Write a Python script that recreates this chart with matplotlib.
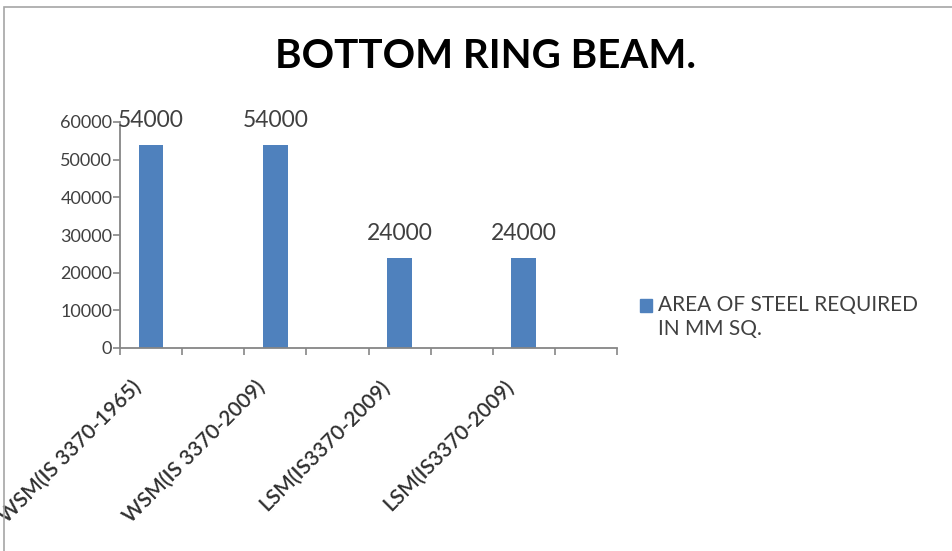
import matplotlib
matplotlib.use("Agg")
import matplotlib.pyplot as plt
import numpy as np
from matplotlib.patches import Rectangle

# steel area required for the bottom ring beam, by design method
methods = ["WSM(IS 3370-1965)", "WSM(IS 3370-2009)", "LSM(IS3370-2009)", "LSM(IS3370-2009)"]
steel_area = [54000, 54000, 24000, 24000]
y_ticks = [0, 10000, 20000, 30000, 40000, 50000, 60000]
series_name = "AREA OF STEEL REQUIRED\nIN MM SQ."

plt.rcParams['font.family'] = ['Lato', 'DejaVu Sans']

bar_color = "#4F81BD"
axis_color = "#868686"
text_color = "#404040"

fig = plt.figure(figsize=(9.52, 5.51), dpi=100)
fig.patch.set_facecolor("white")

W, H = 952, 551
ax = fig.add_axes([120 / W, 1 - 348 / H, (617 - 120) / W, (348 - 122) / H])

# each category occupies two slots on the axis, bar sits in the first one
pos = np.arange(len(methods)) * 2 + 0.5
bars = ax.bar(pos, steel_area, width=0.4, color=bar_color, zorder=2)

for x, v in zip(pos, steel_area):
    ax.annotate(f"{v}", (x, v), xytext=(0, 24), textcoords="offset pixels",
                ha="center", va="center", fontsize=16.5, color=text_color)

# slanted category names, ending just under each bar
for x, name in zip(pos, methods):
    ax.annotate(name, (x, 0), xycoords=("data", "axes fraction"),
                xytext=(-13, -36), textcoords="offset pixels",
                rotation=45, ha="right", va="center", rotation_mode="anchor",
                fontsize=15, color="#303030", fontweight="semibold",
                annotation_clip=False)

ax.set_xlim(0, 8)
ax.set_ylim(0, 60000)
ax.set_yticks(y_ticks)
ax.set_yticklabels([str(t) for t in y_ticks], fontsize=13, color=text_color)
ax.set_xticks(np.arange(0, 9))
ax.set_xticklabels([])

ax.tick_params(axis="y", length=5, width=1.2, color=axis_color, pad=0.5)
ax.tick_params(axis="x", length=5, width=1.2, color=axis_color)

for s in ["top", "right"]:
    ax.spines[s].set_visible(False)
for s in ["left", "bottom"]:
    ax.spines[s].set_color(axis_color)
    ax.spines[s].set_linewidth(1.3)

fig.text(486 / W, 1 - 56 / H, "BOTTOM RING BEAM.", ha="center", va="center",
         fontsize=29, fontweight="bold", color="black")

# legend entry drawn as a square swatch and two text lines
fig.patches.append(Rectangle((640 / W, 1 - 312 / H), 12 / W, 13 / H,
                             transform=fig.transFigure, color=bar_color))
fig.text(658 / W, 1 - 295 / H, series_name, ha="left", va="top",
         fontsize=15, color=text_color, linespacing=1.25)

# chart frame
fig.patches.append(Rectangle((4 / W, -0.05), 1.1, 1.05 - 7 / H,
                             transform=fig.transFigure, fill=False,
                             edgecolor="#a6a6a6", linewidth=1.2))

fig.savefig("out.png", dpi=100)
